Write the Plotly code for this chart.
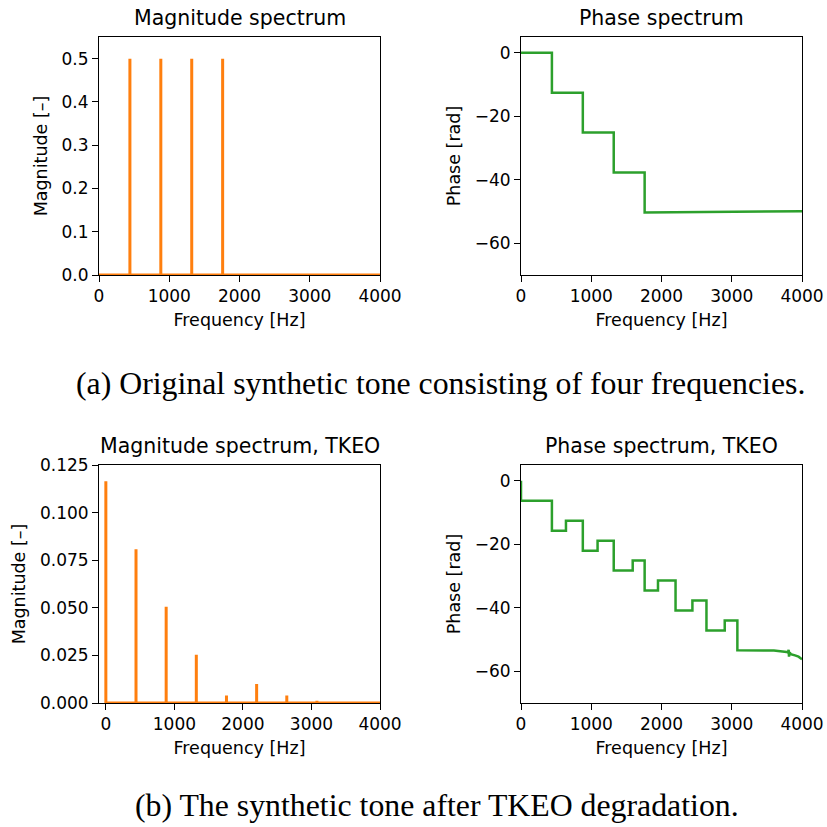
import numpy as np
import plotly.graph_objects as go

# ---- data ----
# Original tone: four partials
orig_freqs = [440, 880, 1320, 1760]
orig_mags = [0.5, 0.5, 0.5, 0.5]

# Phase of the original tone (step edges and levels)
orig_phase_f = [0, 440, 440, 880, 880, 1320, 1320, 1760, 1760, 2600, 3200, 3500, 4000]
orig_phase_v = [0, 0, -12.57, -12.57, -25.13, -25.13, -37.70, -37.70, -50.27, -50.2, -50.1, -50.0, -49.9]

# Tone after TKEO degradation
tkeo_freqs = [0, 440, 880, 1320, 1760, 2200, 2640, 3080]
tkeo_mags = [0.1165, 0.0807, 0.0506, 0.0254, 0.0040, 0.0100, 0.0040, 0.0012]

tkeo_phase_f = [0, 0, 440, 440, 640, 640, 880, 880, 1090, 1090, 1320, 1320, 1590, 1590,
                1760, 1760, 1950, 1950, 2200, 2200, 2440, 2440, 2640, 2640, 2900, 2900,
                3080, 3080, 3600, 3700, 3780, 3800, 3810, 3815, 3825, 3840, 3870, 3900,
                3950, 3980, 4000]
tkeo_phase_v = [0, -6.28, -6.28, -15.71, -15.71, -12.57, -12.57, -21.99, -21.99, -18.85,
                -18.85, -28.27, -28.27, -25.13, -25.13, -34.56, -34.56, -31.42, -31.42,
                -40.84, -40.84, -37.70, -37.70, -47.12, -47.12, -43.98, -43.98, -53.41,
                -53.45, -53.6, -53.9, -54.1, -53.2, -55.4, -54.0, -54.6, -54.9, -55.0,
                -55.4, -55.9, -56.2]

F_MAX = 4000
ORANGE = "#ff7f0e"
GREEN = "#2ca02c"
TICK_FONT = dict(family="DejaVu Sans", size=17, color="black")
LABEL_FONT = dict(family="DejaVu Sans", size=17.5, color="black")
TITLE_FONT = dict(family="DejaVu Sans", size=20.5, color="black")
CAP_FONT = dict(family="Liberation Serif", size=31.8, color="black")


def spikes(freqs, mags, fmax):
    """Turn partial frequencies/magnitudes into a spike line on a zero baseline."""
    x, y = [0.0], [0.0]
    for f, m in zip(freqs, mags):
        x += [f, f, f]
        y += [0.0, m, 0.0]
    x.append(fmax)
    y.append(0.0)
    return np.array(x), np.array(y)


fig = go.Figure()

W = H = 827
def px_x(a, b):
    return [a / W, b / W]
def px_y(top, bottom):
    return [1 - bottom / H, 1 - top / H]

panels = [
    # (axis suffix, x-domain px, y-domain px)
    ("", (99, 380), (37, 275)),
    ("2", (521, 802), (37, 275)),
    ("3", (99, 380), (465, 703)),
    ("4", (521, 802), (465, 703)),
]

xs, ys = spikes(orig_freqs, orig_mags, F_MAX)
fig.add_trace(go.Scatter(x=xs, y=ys, mode="lines", line=dict(color=ORANGE, width=3),
                         xaxis="x", yaxis="y", showlegend=False))
fig.add_trace(go.Scatter(x=orig_phase_f, y=orig_phase_v, mode="lines",
                         line=dict(color=GREEN, width=2.5), xaxis="x2", yaxis="y2",
                         showlegend=False))
xs, ys = spikes(tkeo_freqs, tkeo_mags, F_MAX)
fig.add_trace(go.Scatter(x=xs, y=ys, mode="lines", line=dict(color=ORANGE, width=3),
                         xaxis="x3", yaxis="y3", showlegend=False))
fig.add_trace(go.Scatter(x=tkeo_phase_f, y=tkeo_phase_v, mode="lines",
                         line=dict(color=GREEN, width=2.5), xaxis="x4", yaxis="y4",
                         showlegend=False))

axis_common = dict(showline=True, linecolor="black", linewidth=1, mirror=True,
                   ticks="outside", ticklen=6, tickwidth=1, tickcolor="black",
                   showgrid=False, zeroline=False, tickfont=TICK_FONT, automargin=False)

x_ranges = [[0, 4000], [0, 4000], [-100, 4000], [0, 4000]]
y_ranges = [[0, 0.55], [-70, 5], [0, 0.125], [-70, 5]]
y_ticks = [dict(tickvals=[0, 0.1, 0.2, 0.3, 0.4, 0.5], tickformat=".1f"),
           dict(tickvals=[0, -20, -40, -60]),
           dict(tickvals=[0, 0.025, 0.05, 0.075, 0.1, 0.125], tickformat=".3f"),
           dict(tickvals=[0, -20, -40, -60])]
y_titles = ["Magnitude [–]", "Phase [rad]", "Magnitude [–]", "Phase [rad]"]
titles = ["Magnitude spectrum", "Phase spectrum",
          "Magnitude spectrum, TKEO", "Phase spectrum, TKEO"]

layout = {}
for i, (suf, (xa, xb), (yt, yb)) in enumerate(panels):
    layout["xaxis" + suf] = dict(axis_common, domain=px_x(xa, xb), range=x_ranges[i],
                                 anchor="y" + suf, tickvals=[0, 1000, 2000, 3000, 4000],
                                 title=dict(text="Frequency [Hz]", font=LABEL_FONT, standoff=8))
    layout["yaxis" + suf] = dict(axis_common, domain=px_y(yt, yb), range=y_ranges[i],
                                 anchor="x" + suf,
                                 title=dict(text=y_titles[i], font=LABEL_FONT, standoff=9),
                                 **y_ticks[i])
fig.update_layout(**layout)

annotations = []
for i, (suf, (xa, xb), (yt, yb)) in enumerate(panels):
    annotations.append(dict(text=titles[i], x=(xa + xb) / 2 / W, y=1 - (yt - 5) / H,
                            xref="paper", yref="paper", xanchor="center", yanchor="bottom",
                            showarrow=False, font=TITLE_FONT))
annotations.append(dict(text="(a) Original synthetic tone consisting of four frequencies.",
                        x=440 / W, y=1 - 383 / H, xref="paper", yref="paper",
                        xanchor="center", yanchor="middle", showarrow=False, font=CAP_FONT))
annotations.append(dict(text="(b) The synthetic tone after TKEO degradation.",
                        x=437 / W, y=1 - 805 / H, xref="paper", yref="paper",
                        xanchor="center", yanchor="middle", showarrow=False, font=CAP_FONT))

fig.update_layout(width=W, height=H, margin=dict(l=0, r=0, t=0, b=0),
                  paper_bgcolor="white", plot_bgcolor="white",
                  annotations=annotations)

fig.write_html("out.html")
